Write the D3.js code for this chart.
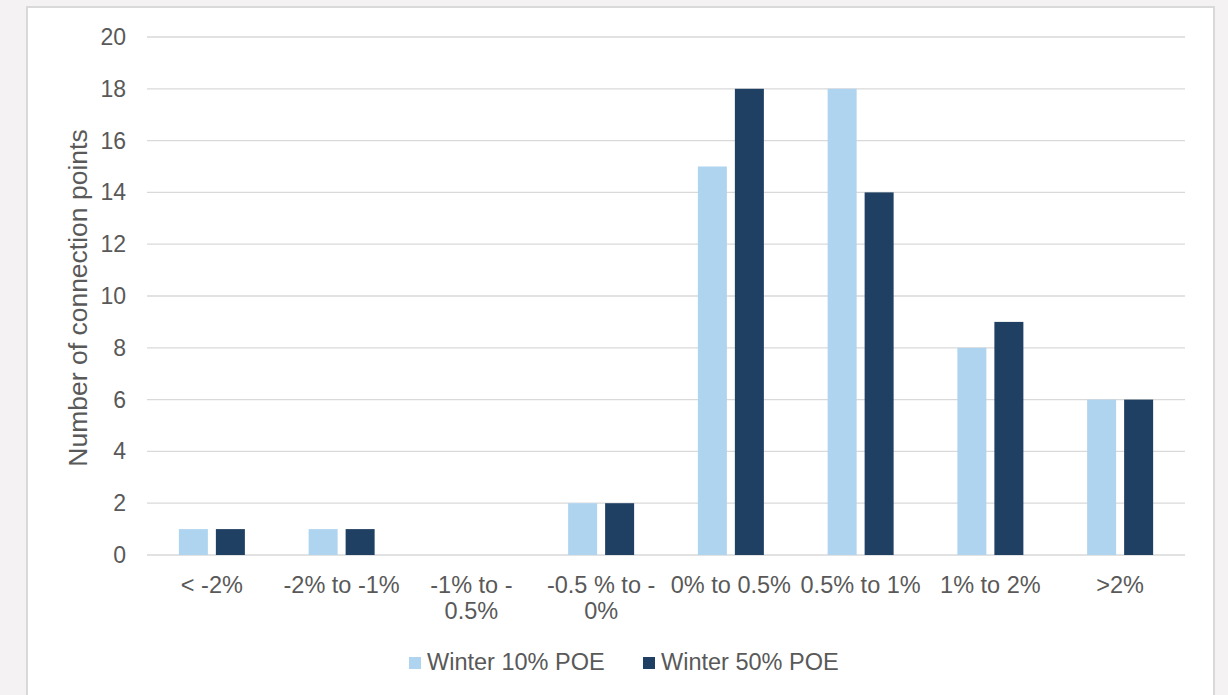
<!DOCTYPE html>
<html>
<head>
<meta charset="utf-8">
<script src="https://cdn.jsdelivr.net/npm/d3@7"></script>
<style>
  html, body { margin: 0; padding: 0; background: #f4f2f3; }
  svg { display: block; }
  text { font-family: "Liberation Sans", Arial, sans-serif; fill: #595959; }
</style>
</head>
<body>
<svg id="chart" width="1228" height="695"></svg>
<script>
// Connection point counts per growth band
const categories = [["< -2%"], ["-2% to -1%"], ["-1% to -", "0.5%"], ["-0.5 % to -", "0%"],
                    ["0% to 0.5%"], ["0.5% to 1%"], ["1% to 2%"], [">2%"]];
const seriesNames = ["Winter 10% POE", "Winter 50% POE"];
const winter10 = [1, 1, 0, 2, 15, 18, 8, 6];
const winter50 = [1, 1, 0, 2, 18, 14, 9, 6];
const yTicks = [0, 2, 4, 6, 8, 10, 12, 14, 16, 18, 20];
const colors = ["#aed4f0", "#1f3f63"];

const svg = d3.select("#chart");

// white chart panel
svg.append("rect")
  .attr("x", 27).attr("y", 7).attr("width", 1187).attr("height", 700)
  .attr("fill", "#ffffff").attr("stroke", "#d9d9d9").attr("stroke-width", 2);

const plotLeft = 147, plotRight = 1185, plotTop = 37, plotBottom = 555;

const x = d3.scaleBand().domain(d3.range(categories.length)).range([plotLeft, plotRight]);
const y = d3.scaleLinear().domain([0, 20]).range([plotBottom, plotTop]);

// gridlines
svg.append("g").selectAll("line").data(yTicks).join("line")
  .attr("x1", plotLeft).attr("x2", plotRight)
  .attr("y1", d => y(d)).attr("y2", d => y(d))
  .attr("stroke", "#d9d9d9").attr("stroke-width", 1.3);

// y tick labels
svg.append("g").selectAll("text").data(yTicks).join("text")
  .attr("x", 126).attr("y", d => y(d)).attr("dy", "0.35em")
  .attr("text-anchor", "end").attr("font-size", 23)
  .text(d => d);

// bars
const barW = 29, innerGap = 8;
const series = [winter10, winter50];
series.forEach((vals, si) => {
  svg.append("g").selectAll("rect").data(vals).join("rect")
    .attr("x", (d, i) => x(i) + x.bandwidth() / 2 - barW - innerGap / 2 + si * (barW + innerGap))
    .attr("y", d => y(d))
    .attr("width", barW)
    .attr("height", d => y(0) - y(d))
    .attr("fill", colors[si]);
});

// x category labels
const xl = svg.append("g").selectAll("text").data(categories).join("text")
  .attr("x", (d, i) => x(i) + x.bandwidth() / 2)
  .attr("y", 593)
  .attr("text-anchor", "middle").attr("font-size", 23.5);
xl.selectAll("tspan").data(d => d).join("tspan")
  .attr("x", function() { return d3.select(this.parentNode).attr("x"); })
  .attr("dy", (d, i) => i === 0 ? 0 : 26)
  .text(d => d);

// y axis title
svg.append("text")
  .attr("transform", "translate(86.5,298) rotate(-90)")
  .attr("text-anchor", "middle").attr("font-size", 26.5)
  .text("Number of connection points");

// legend
const legendX = [409, 643];
seriesNames.forEach((name, i) => {
  svg.append("rect").attr("x", legendX[i]).attr("y", 657).attr("width", 12).attr("height", 12)
    .attr("fill", colors[i]);
  svg.append("text").attr("x", legendX[i] + 18).attr("y", 670)
    .attr("font-size", 23.5).text(name);
});
</script>
</body>
</html>
